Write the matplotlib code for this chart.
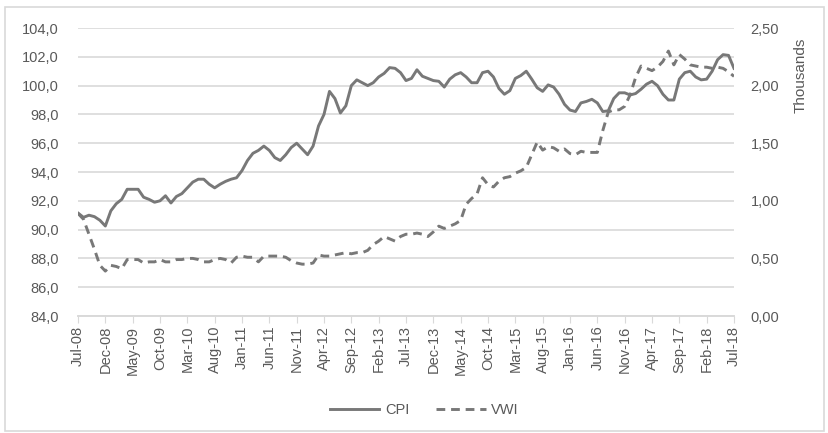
import matplotlib
matplotlib.use("Agg")
import matplotlib.pyplot as plt
from matplotlib.patches import Rectangle
from matplotlib.ticker import FuncFormatter
import numpy as np
import pandas as pd

# monthly series, Jul-08 .. Jul-18
months = pd.date_range("2008-07-01", periods=121, freq="MS")

cpi = [91.15, 90.85, 91.0, 90.9, 90.65, 90.25, 91.3, 91.8, 92.1, 92.8,
       92.8, 92.8, 92.25, 92.1, 91.9, 92.0, 92.35, 91.85, 92.3, 92.5,
       92.9, 93.3, 93.5, 93.5, 93.15, 92.9, 93.15, 93.35, 93.5, 93.6,
       94.1, 94.8, 95.3, 95.5, 95.8, 95.5, 95.0, 94.8, 95.2, 95.7,
       96.0, 95.6, 95.2, 95.8, 97.2, 98.0, 99.6, 99.1, 98.1, 98.6,
       100.0, 100.4, 100.2, 100.0, 100.2, 100.6, 100.85, 101.25, 101.2, 100.9,
       100.35, 100.5, 101.1, 100.65, 100.5, 100.35, 100.3, 99.9, 100.45, 100.75,
       100.9, 100.6, 100.2, 100.2, 100.9, 101.0, 100.6, 99.8, 99.4, 99.65,
       100.5, 100.7, 101.0, 100.45, 99.85, 99.6, 100.05, 99.9, 99.4, 98.7,
       98.3, 98.2, 98.8, 98.9, 99.05, 98.8, 98.2, 98.25, 99.1, 99.5,
       99.5, 99.35, 99.45, 99.75, 100.1, 100.3, 100.0, 99.4, 99.0, 99.0,
       100.45, 100.9, 101.0, 100.6, 100.4, 100.45, 101.0, 101.8, 102.15, 102.1,
       101.2]

# VWI in thousands
vwi = [0.89, 0.84, 0.71, 0.58, 0.44, 0.39, 0.44, 0.43, 0.41, 0.49,
       0.49, 0.49, 0.46, 0.47, 0.47, 0.49, 0.47, 0.47, 0.49, 0.49,
       0.50, 0.50, 0.49, 0.47, 0.47, 0.49, 0.50, 0.49, 0.46, 0.51,
       0.52, 0.51, 0.51, 0.47, 0.52, 0.52, 0.52, 0.52, 0.51, 0.48,
       0.46, 0.45, 0.45, 0.46, 0.53, 0.52, 0.52, 0.53, 0.54, 0.55,
       0.54, 0.55, 0.55, 0.57, 0.62, 0.65, 0.69, 0.67, 0.65, 0.69,
       0.71, 0.71, 0.72, 0.71, 0.69, 0.73, 0.78, 0.76, 0.78, 0.80,
       0.83, 0.97, 1.02, 1.06, 1.20, 1.14, 1.12, 1.17, 1.20, 1.21,
       1.24, 1.26, 1.29, 1.40, 1.51, 1.44, 1.47, 1.46, 1.43, 1.45,
       1.41, 1.40, 1.43, 1.42, 1.42, 1.42, 1.61, 1.77, 1.79, 1.79,
       1.82, 1.92, 2.07, 2.17, 2.15, 2.13, 2.16, 2.21, 2.30, 2.18,
       2.27, 2.23, 2.18, 2.17, 2.16, 2.16, 2.15, 2.16, 2.15, 2.12,
       2.08]

tick_idx = list(range(0, 121, 5))
tick_labels = [months[i].strftime("%b-%y") for i in tick_idx]

plt.rcParams["font.family"] = ["Liberation Sans", "DejaVu Sans"]
TXT = "#595959"
LINE = "#787878"
GRID = "#D9D9D9"

fig = plt.figure(figsize=(8.29, 4.33), dpi=100)
fig.patches.append(Rectangle((0.006, 0.004), 0.988, 0.98, transform=fig.transFigure,
                             fill=False, edgecolor=GRID, lw=1.2))
ax = fig.add_axes([0.0941, 0.2702, 0.7913, 0.6651])
ax2 = ax.twinx()

x = np.arange(len(cpi))
l1, = ax.plot(x, cpi, color=LINE, lw=2.1, label="CPI", solid_joinstyle="round")
l2, = ax2.plot(x, vwi, color=LINE, lw=2.1, ls=(0, (3, 2)), label="VWI")

ax.set_xlim(0, 120)
ax.set_ylim(84, 104)
ax.set_yticks(np.arange(84, 104.1, 2))
ax.yaxis.set_major_formatter(FuncFormatter(lambda v, p: f"{v:.1f}".replace(".", ",")))
ax2.set_ylim(0, 2.5)
ax2.set_yticks(np.arange(0, 2.51, 0.5))
ax2.yaxis.set_major_formatter(FuncFormatter(lambda v, p: f"{v:.2f}".replace(".", ",")))

ax.set_xticks(tick_idx)
ax.set_xticklabels(tick_labels, rotation=90, fontsize=10.5, color=TXT)
ax.tick_params(axis="x", direction="out", length=5, color=GRID, pad=2)
ax.tick_params(axis="y", length=0, labelsize=10.5, labelcolor=TXT, pad=14)
ax2.tick_params(axis="y", length=0, labelsize=10.5, labelcolor=TXT, pad=12)

ax.grid(axis="y", color=GRID, lw=1.2)
ax.set_axisbelow(True)
for a in (ax, ax2):
    for s in ("top", "left", "right"):
        a.spines[s].set_visible(False)
    a.spines["bottom"].set_color(GRID)
    a.spines["bottom"].set_linewidth(1.2)

fig.text(0.966, 0.827, "Thousands", rotation=90, ha="center", va="center",
         fontsize=11, color=TXT)

fig.legend(handles=[l1, l2], loc="center", bbox_to_anchor=(0.512, 0.053), ncol=2,
           frameon=False, fontsize=10.5, labelcolor=TXT, handlelength=3.4,
           columnspacing=1.8, handletextpad=0.4)

fig.savefig("out.png", dpi=100)
